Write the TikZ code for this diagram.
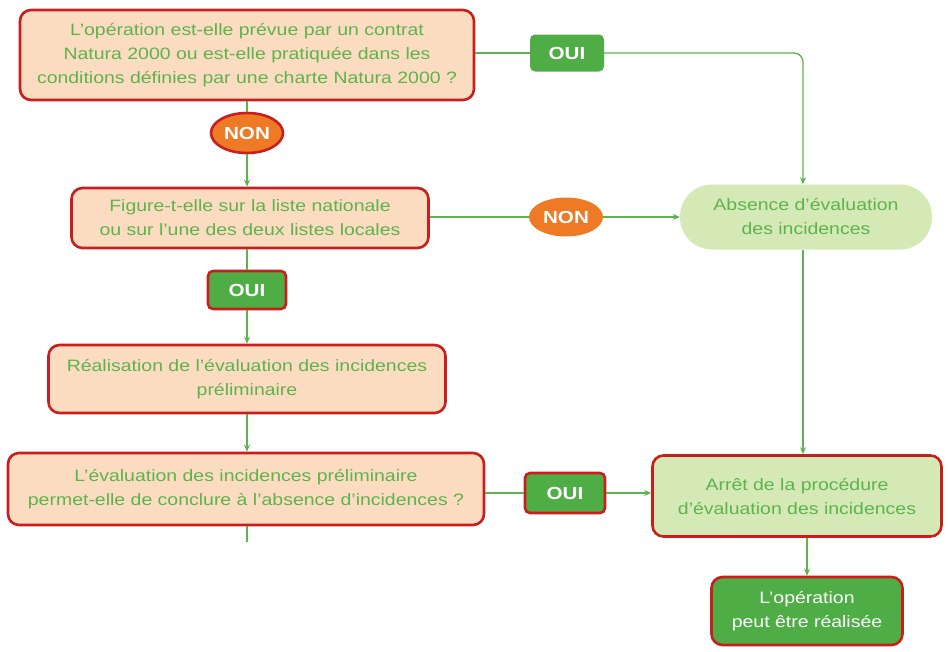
\documentclass[tikz,border=0pt]{standalone}
\usepackage{fontspec}
\setmainfont{Liberation Sans}[FakeStretch=1.18]
\usetikzlibrary{arrows.meta,shapes.geometric}
\definecolor{peche}{HTML}{FCDCC0}
\definecolor{rouge}{HTML}{C81E1E}
\definecolor{vert}{HTML}{5DB34E}
\definecolor{vertfonce}{HTML}{4EAE45}
\definecolor{vertclair}{HTML}{D5E9B6}
\definecolor{orangeN}{HTML}{EE7A26}
\begin{document}
\begin{tikzpicture}[x=1pt,y=-1pt,
	question/.style={draw=rouge,line width=2.6pt,fill=peche,rounded corners=11pt,text=vert,align=center,inner sep=0pt,font=\fontsize{16.5}{24}\selectfont},
	issue/.style={fill=vertclair,text=vert,align=center,inner sep=0pt,font=\fontsize{16.5}{24}\selectfont},
	oui/.style={fill=vertfonce,text=white,rounded corners=5pt,inner sep=0pt,font=\bfseries\fontsize{17.5}{20}\selectfont},
	non/.style={ellipse,fill=orangeN,text=white,inner sep=0pt,font=\bfseries\fontsize{17.5}{20}\selectfont},
	lien/.style={draw=vert,line width=1.3pt},
	fleche/.style={lien,-{Stealth[length=7pt,width=6pt]}}]
	\useasboundingbox (0,0) rectangle (948,651);
	
	% colonne de gauche
	\node[question,minimum width=454pt,minimum height=90pt] (q1) at (247,55)
		{L’opération est-elle prévue par un contrat\\Natura 2000 ou est-elle pratiquée dans les\\conditions définies par une charte Natura 2000 ?};
	\node[non,draw=rouge,line width=2.6pt,minimum width=72pt,minimum height=40pt] (non1) at (247,133) {NON};
	\node[question,minimum width=357pt,minimum height=60pt] (q2) at (250,218)
		{Figure-t-elle sur la liste nationale\\ou sur l'une des deux listes locales};
	\node[oui,draw=rouge,line width=2.6pt,minimum width=78pt,minimum height=38pt] (oui2) at (247,290) {OUI};
	\node[question,minimum width=397pt,minimum height=68pt] (real) at (247,379)
		{Réalisation de l'évaluation des incidences\\préliminaire};
	\node[question,minimum width=476pt,minimum height=72pt] (q3) at (246,489)
		{L’évaluation des incidences préliminaire\\permet-elle de conclure à l’absence d’incidences ?};
	\coordinate (fin) at (247,542);
	
	% colonne de droite
	\node[oui,minimum width=74pt,minimum height=37pt] (oui1) at (567,53) {OUI};
	\node[issue,rounded corners=32pt,minimum width=252pt,minimum height=65pt] (abs) at (806,217)
		{Absence d’évaluation\\des incidences};
	\node[non,minimum width=74pt,minimum height=39pt] (non2) at (566,217) {NON};
	\node[issue,draw=rouge,line width=2.6pt,rounded corners=11pt,minimum width=289pt,minimum height=81pt] (arret) at (797,496)
		{Arrêt de la procédure\\d’évaluation des incidences};
	\node[oui,draw=rouge,line width=2.6pt,minimum width=80pt,minimum height=40pt] (oui3) at (565,493) {OUI};
	\node[oui,draw=rouge,line width=2.6pt,rounded corners=11pt,font=\fontsize{16.5}{24}\selectfont,align=center,minimum width=191pt,minimum height=68pt] (ok) at (807,611)
		{L’opération\\peut être réalisée};
	
	% liaisons
	\draw[lien] (q1.south) -- (non1.north);
	\draw[fleche] (non1.south) -- (non1.south |- q2.north);
	\draw[lien] (q2.south -| oui2.north) -- (oui2.north);
	\draw[fleche] (oui2.south) -- (real.north);
	\draw[fleche] (real.south) -- (real.south |- q3.north);
	\draw[lien] (q3.south -| fin) -- (fin);
	
	\draw[lien] (q1.east |- oui1) -- (oui1.west);
	\draw[fleche,rounded corners=9pt] (oui1.east) -| ([xshift=-3pt]abs.north);
	\draw[lien] (q2.east |- non2) -- (non2.west);
	\draw[fleche] (non2.east) -- (abs.west);
	\draw[fleche] ([xshift=-3pt]abs.south) -- ([xshift=-3pt]abs.south |- arret.north);
	\draw[lien] (q3.east |- oui3) -- (oui3.west);
	\draw[fleche] (oui3.east) -- (oui3.east -| arret.west);
	\draw[fleche] (ok.north |- arret.south) -- (ok.north);
\end{tikzpicture}
\end{document}
